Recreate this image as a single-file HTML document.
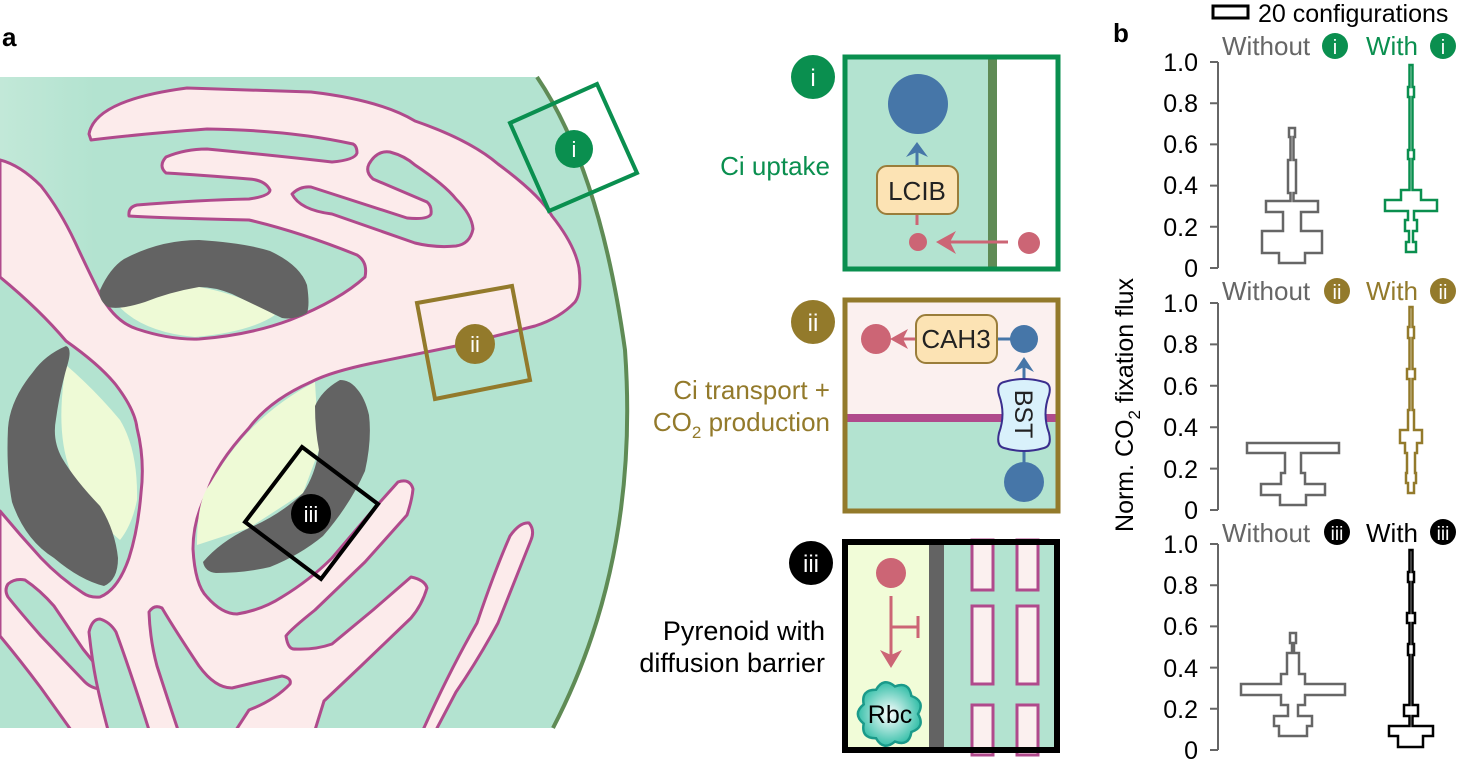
<!DOCTYPE html>
<html><head><meta charset="utf-8"><style>
html,body{margin:0;padding:0;background:#fff;}
svg{display:block;font-family:"Liberation Sans",sans-serif;}
</style></head><body>
<svg width="1467" height="761" viewBox="0 0 1467 761" xmlns="http://www.w3.org/2000/svg">
<defs>
<linearGradient id="lg" x1="0" x2="1" y1="0" y2="0"><stop offset="0" stop-color="#c2e8d8"/><stop offset="0.15" stop-color="#b3e3d0"/></linearGradient>
<radialGradient id="rg"><stop offset="0" stop-color="#ffffff"/><stop offset="1" stop-color="#38c0aa"/></radialGradient>
<clipPath id="cellclip"><path d="M0,77 L537,77 Q600,170 625,350 Q640,560 553,728 L0,728 Z"/></clipPath>
</defs>
<text x="2" y="46" font-size="26" font-weight="bold">a</text>

<path d="M0,77 L537,77 Q600,170 625,350 Q640,560 553,728 L0,728 Z" fill="url(#lg)"/>
<g clip-path="url(#cellclip)" stroke="#b04a8c" stroke-width="3" stroke-linejoin="round">
<path fill="#fcebeb" d="M89,134 Q95,100 187,88 L311,92 Q380,100 415,121 Q470,140 498,164 Q540,195 552,216 Q575,245 579,268 Q582,292 575,302 Q560,318 535,326 L456,346 L373,363 Q330,372 311,382 Q270,400 249,428 Q215,465 207,493 Q193,520 193,549 Q195,585 207,597 Q222,614 237,614 Q262,610 282,597 Q310,580 332,558 L373,510 L398,482 Q410,478 413,489 Q412,500 407,515 L365,562 L315,610 Q290,630 286,636 Q288,650 295,649 Q315,650 332,644 L373,610 L411,577 Q425,580 427,588 Q422,605 411,618 L361,666 L324,701 L315,730 L0,730 L0,160 Q20,165 41,186 Q60,210 75,242 Q88,270 100,294 Q115,322 137,329 Q170,340 199,339 Q250,335 290,320 Q340,300 365,277 Q368,262 357,255 Q300,232 249,220 Q160,218 129,216 Q128,207 137,205 Q200,200 249,199 Q270,196 270,190 Q265,180 249,179 Q200,175 166,173 Q158,166 166,157 Q185,149 207,149 Q280,156 332,162 Q355,160 357,153 Q357,146 353,144 Q290,130 207,129 Q140,134 91,140 Z"/>
<path fill="#b3e3d0" d="M292,194 Q300,186 311,187 L407,218 Q428,220 431,214 Q432,206 427,202 L373,179 Q365,172 369,164 Q377,150 390,152 Q405,156 415,165 Q445,185 456,199 Q472,215 473,229 Q470,244 456,246 Q435,248 415,243 L332,214 Q300,210 292,194 Z"/>
<path fill="#b3e3d0" d="M-5,277 L0,277 Q40,310 66,341 Q100,365 116,385 Q135,410 137,428 Q145,460 141,493 Q138,530 129,558 Q118,590 100,597 Q90,598 83,593 Q60,578 41,558 Q20,535 0,511 L-5,511 Z"/>
<path fill="#b3e3d0" d="M8,584 Q15,578 25,580 Q40,590 54,606 L83,649 L108,680 Q108,690 100,689 Q90,688 83,680 L41,636 Q20,612 8,597 Q4,590 8,584 Z"/>
<path fill="#b3e3d0" d="M-5,636 L0,636 Q20,660 41,688 L71,730 L-5,730 Z"/>
<path fill="#b3e3d0" d="M89,632 Q92,619 100,619 Q110,622 116,632 Q130,670 149,730 L108,730 Q100,700 96,680 Q92,660 89,632 Z"/>
<path fill="#b3e3d0" d="M149,612 Q154,604 162,608 Q175,630 199,666 Q215,688 232,688 L282,676 Q292,678 290,684 Q275,700 249,710 L236,730 L178,730 Q168,700 157,666 Q150,640 149,612 Z"/>
<path fill="#fcebeb" d="M423,730 Q450,670 477,623 Q495,570 510,536 Q520,522 529,523 Q535,530 531,540 Q515,580 498,623 Q478,660 456,692 L436,730 Z"/>
</g>
<path fill="#eefad6" d="M116,303 Q160,288 199,287 Q240,294 275,315 Q250,332 195,337 Q140,332 116,303 Z"/>
<path fill="#eefad6" d="M66,365 Q95,390 120,420 Q138,450 137,500 Q132,525 120,540 Q95,520 70,470 Q55,430 66,365 Z"/>
<path fill="#eefad6" d="M197,545 Q197,500 210,484 Q230,450 252,428 Q280,400 315,382 L319,450 L303,493 L249,528 Z"/>
<path fill="#636363" d="M100,290 Q110,268 124,259 Q160,240 199,240 Q245,243 270,251 Q300,265 307,285 Q310,305 307,313 Q295,320 282,318 Q255,305 232,294 Q215,287 199,287 Q170,292 145,302 Q120,310 108,307 Q98,300 100,290 Z"/>
<path fill="#636363" d="M66,346 Q45,355 33,372 Q10,400 8,428 Q6,470 12,502 Q25,540 54,558 Q80,580 104,586 Q118,580 118,558 Q115,530 100,506 Q75,480 62,458 Q52,440 56,419 Q60,390 68,363 Q72,348 66,346 Z"/>
<path fill="#636363" d="M340,380 Q322,390 315,406 Q315,430 319,450 Q315,475 303,493 Q280,515 249,528 Q220,542 203,562 Q205,572 216,573 Q245,573 270,567 Q300,555 323,536 Q350,505 365,471 Q372,440 369,415 Q365,398 357,389 Q350,380 340,380 Z"/>
<path d="M537,77 Q600,170 625,350 Q640,560 553,728" fill="none" stroke="#5f8b55" stroke-width="4"/>
<path d="M510,123 L597,84 L637,173 L549,211 Z" fill="none" stroke="#0a8f4f" stroke-width="4"/>
<circle cx="574" cy="149" r="19" fill="#0a8f4f"/><text x="574" y="157" font-size="22" fill="#fff" text-anchor="middle">i</text>
<path d="M417,303 L512,286 L530,380 L435,399 Z" fill="none" stroke="#937a2b" stroke-width="4"/>
<circle cx="475" cy="344" r="20" fill="#937a2b"/><text x="475" y="352" font-size="22" fill="#fff" text-anchor="middle">ii</text>
<path d="M302,447 L378,504 L321,579 L245,522 Z" fill="none" stroke="#000" stroke-width="4"/>
<circle cx="311" cy="514" r="20" fill="#000"/><text x="311" y="522" font-size="22" fill="#fff" text-anchor="middle">iii</text>

<!-- panel i -->
<circle cx="813" cy="77" r="22" fill="#0a8f4f"/><text x="813" y="86" font-size="24" fill="#fff" text-anchor="middle">i</text>
<text x="830" y="175" font-size="26" fill="#0a8f4f" text-anchor="end">Ci uptake</text>
<rect x="845" y="57" width="213" height="212" fill="#b3e3d0"/>
<rect x="997" y="57" width="61" height="212" fill="#fff"/>
<rect x="988" y="57" width="9" height="212" fill="#5f8b55"/>
<rect x="845" y="57" width="213" height="212" fill="none" stroke="#0a8f4f" stroke-width="5"/>
<circle cx="918" cy="104" r="30" fill="#4676a8"/>
<line x1="917" y1="167" x2="917" y2="150" stroke="#4676a8" stroke-width="3"/>
<path d="M906,157 L917,142 L928,157 L917,152 Z" fill="#4676a8"/>
<line x1="917" y1="212" x2="917" y2="225" stroke="#cc6575" stroke-width="3"/>
<rect x="877" y="166" width="81" height="48" rx="10" fill="#fce3b4" stroke="#9a7d3a" stroke-width="2"/>
<text x="917" y="200" font-size="26" text-anchor="middle" fill="#222">LCIB</text>
<circle cx="918" cy="242" r="9" fill="#cc6575"/>
<line x1="1008" y1="242" x2="945" y2="242" stroke="#cc6575" stroke-width="3"/>
<path d="M936,242 L956,231 L950,242 L956,254 Z" fill="#cc6575"/>
<circle cx="1029" cy="243" r="11" fill="#cc6575"/>

<!-- panel ii -->
<circle cx="813" cy="322" r="22" fill="#937a2b"/><text x="813" y="331" font-size="24" fill="#fff" text-anchor="middle">ii</text>
<text x="830" y="399" font-size="26" fill="#937a2b" text-anchor="end">Ci transport +</text>
<text x="830" y="431" font-size="26" fill="#937a2b" text-anchor="end">CO<tspan font-size="17" dy="7">2</tspan><tspan dy="-7"> production</tspan></text>
<rect x="845" y="300" width="213" height="211" fill="#fbf0ef"/>
<rect x="845" y="418" width="213" height="93" fill="#b3e3d0"/>
<rect x="845" y="414" width="213" height="8" fill="#b04a8c"/>
<rect x="845" y="300" width="213" height="211" fill="none" stroke="#937a2b" stroke-width="5"/>
<circle cx="876" cy="339" r="15" fill="#cc6575"/>
<line x1="916" y1="339" x2="898" y2="339" stroke="#cc6575" stroke-width="3"/>
<path d="M890,339 L908,329 L903,339 L908,349 Z" fill="#cc6575"/>
<line x1="997" y1="339" x2="1012" y2="339" stroke="#4676a8" stroke-width="3"/>
<rect x="916" y="315" width="81" height="48" rx="10" fill="#fce3b4" stroke="#9a7d3a" stroke-width="2"/>
<text x="956" y="348" font-size="26" text-anchor="middle" fill="#222">CAH3</text>
<circle cx="1024" cy="339" r="14" fill="#4676a8"/>
<line x1="1024" y1="380" x2="1024" y2="362" stroke="#4676a8" stroke-width="3"/>
<path d="M1014,372 L1024,357 L1034,372 L1024,367 Z" fill="#4676a8"/>
<line x1="1024" y1="446" x2="1024" y2="465" stroke="#4676a8" stroke-width="3"/>
<circle cx="1024" cy="482" r="20" fill="#4676a8"/>
<path d="M1004,382 Q1024,376 1044,382 Q1052,384 1049,395 Q1042,414 1049,433 Q1052,446 1044,448 Q1024,454 1004,448 Q996,446 999,433 Q1006,414 999,395 Q996,384 1004,382 Z" fill="#d9f1fb" stroke="#3a2e8e" stroke-width="2"/>
<text x="0" y="0" font-size="25" fill="#222" text-anchor="middle" transform="translate(1015,414) rotate(90)">BST</text>

<!-- panel iii -->
<circle cx="811" cy="563" r="22" fill="#000"/><text x="811" y="572" font-size="24" fill="#fff" text-anchor="middle">iii</text>
<text x="825" y="640" font-size="27" text-anchor="end">Pyrenoid with</text>
<text x="825" y="672" font-size="27" text-anchor="end">diffusion barrier</text>
<rect x="845" y="542" width="212" height="208" fill="#b3e3d0"/>
<rect x="845" y="542" width="84" height="208" fill="#f1fcd8"/>
<rect x="929" y="542" width="15" height="208" fill="#636363"/>
<g fill="#fbf0ef" stroke="#b04a8c" stroke-width="3">
<rect x="972" y="540" width="21" height="50"/><rect x="1017" y="540" width="21" height="50"/>
<rect x="972" y="606" width="21" height="78"/><rect x="1017" y="606" width="21" height="78"/>
<rect x="972" y="705" width="21" height="50"/><rect x="1017" y="705" width="21" height="50"/>
</g>
<rect x="845" y="542" width="212" height="208" fill="none" stroke="#000" stroke-width="6"/>
<circle cx="891" cy="573" r="15" fill="#cc6575"/>
<line x1="891" y1="596" x2="891" y2="660" stroke="#cc6575" stroke-width="3"/>
<path d="M880,650 L891,668 L902,650 L891,655 Z" fill="#cc6575"/>
<line x1="891" y1="627" x2="918" y2="627" stroke="#cc6575" stroke-width="3"/>
<line x1="918" y1="616" x2="918" y2="638" stroke="#cc6575" stroke-width="3"/>
<path d="M918,714 Q925.7,727 911.4,732 Q909,746.9 894.9,741.6 Q883.4,751.4 876,738.2 Q860.9,738.4 863.7,723.6 Q852,714 863.7,704.4 Q860.9,689.6 876,689.8 Q883.4,676.6 894.9,686.4 Q909,681.1 911.4,696 Q925.7,701 918,714 Z" fill="url(#rg)" stroke="#1a9a8a" stroke-width="2.5"/>
<text x="890" y="723" font-size="25" text-anchor="middle">Rbc</text>

<!-- panel b -->
<text x="1113" y="42" font-size="26" font-weight="bold">b</text>
<rect x="1213" y="6" width="35" height="12" fill="none" stroke="#000" stroke-width="3"/>
<text x="1258" y="22" font-size="25">20 configurations</text>
<text x="0" y="0" font-size="25" text-anchor="middle" transform="translate(1133,405) rotate(-90)">Norm. CO<tspan font-size="17" dy="7">2</tspan><tspan dy="-7"> fixation flux</tspan></text>

<g font-size="26" fill="#666">
<text x="1222" y="55">Without</text><text x="1222" y="300">Without</text><text x="1222" y="542">Without</text>
</g>
<circle cx="1335" cy="46" r="13" fill="#0a8f4f"/><text x="1335" y="54" font-size="20" fill="#fff" text-anchor="middle">i</text>
<text x="1366" y="55" font-size="26" fill="#0a8f4f">With</text>
<circle cx="1443" cy="46" r="13" fill="#0a8f4f"/><text x="1443" y="54" font-size="20" fill="#fff" text-anchor="middle">i</text>
<circle cx="1337" cy="291" r="13" fill="#937a2b"/><text x="1337" y="299" font-size="20" fill="#fff" text-anchor="middle">ii</text>
<text x="1366" y="300" font-size="26" fill="#937a2b">With</text>
<circle cx="1443" cy="291" r="13" fill="#937a2b"/><text x="1443" y="299" font-size="20" fill="#fff" text-anchor="middle">ii</text>
<circle cx="1337" cy="532" r="13" fill="#000"/><text x="1337" y="540" font-size="19" fill="#fff" text-anchor="middle">iii</text>
<text x="1366" y="542" font-size="26" fill="#000">With</text>
<circle cx="1443" cy="532" r="13" fill="#000"/><text x="1443" y="540" font-size="19" fill="#fff" text-anchor="middle">iii</text>

<g stroke="#666" stroke-width="2" fill="none">
<path d="M1218,62 V268 M1210,62 H1218 M1210,103.2 H1218 M1210,144.4 H1218 M1210,185.6 H1218 M1210,226.8 H1218 M1210,268 H1218"/>
<path d="M1218,303 V510 M1210,303 H1218 M1210,344.4 H1218 M1210,385.8 H1218 M1210,427.2 H1218 M1210,468.6 H1218 M1210,510 H1218"/>
<path d="M1218,544 V750 M1210,544 H1218 M1210,585.2 H1218 M1210,626.4 H1218 M1210,667.6 H1218 M1210,708.8 H1218 M1210,750 H1218"/>
</g>
<g font-size="25" text-anchor="end">
<text x="1198" y="71">1.0</text><text x="1198" y="112">0.8</text><text x="1198" y="153">0.6</text><text x="1198" y="194">0.4</text><text x="1198" y="236">0.2</text><text x="1198" y="277">0</text>
<text x="1198" y="312">1.0</text><text x="1198" y="353">0.8</text><text x="1198" y="395">0.6</text><text x="1198" y="436">0.4</text><text x="1198" y="478">0.2</text><text x="1198" y="519">0</text>
<text x="1198" y="553">1.0</text><text x="1198" y="594">0.8</text><text x="1198" y="635">0.6</text><text x="1198" y="677">0.4</text><text x="1198" y="718">0.2</text><text x="1198" y="759">0</text>
</g>

<g fill="none" stroke-width="2.5" stroke-linejoin="miter">
<path stroke="#666" d="M1295,128 V137 H1293.5 V160 H1296 V193 H1293.5 V201 H1318 V212 H1301 V231 H1322 V253 H1305 V263 H1279 V253 H1262 V231 H1283 V212 H1266 V201 H1290.5 V193 H1288 V160 H1290.5 V137 H1289 V128 Z"/>
<path stroke="#0a8f4f" d="M1412.5,65 V87 H1414 V97 H1412.5 V150 H1414 V159 H1412.5 V190 H1421 V200 H1437 V211 H1414 V220 H1417 V231 H1413 V242 H1416 V252 H1406 V242 H1409 V231 H1405 V220 H1408 V211 H1385 V200 H1401 V190 H1409.5 V159 H1408 V150 H1409.5 V97 H1408 V87 H1409.5 V65 Z"/>
<path stroke="#666" d="M1339,443 V453 H1301 V473 H1305 V484 H1325 V495 H1306 V505 H1280 V495 H1261 V484 H1281 V473 H1285 V453 H1247 V443 Z"/>
<path stroke="#937a2b" d="M1412.5,307 V327 H1414 V338 H1412.5 V369 H1415 V379 H1412.5 V410 H1414 V430 H1422 V443 H1417 V453 H1415 V473 H1416 V483 H1414 V493 H1408 V483 H1406 V473 H1407 V453 H1405 V443 H1400 V430 H1408 V410 H1409.5 V379 H1407 V369 H1409.5 V338 H1408 V327 H1409.5 V307 Z"/>
<path stroke="#666" d="M1296,633 V643 H1294 V653 H1299 V674 H1305 V684 H1345 V695 H1305 V705 H1298 V716 H1312 V726 H1307 V736 H1279 V726 H1274 V716 H1288 V705 H1281 V695 H1241 V684 H1281 V674 H1287 V653 H1292 V643 H1290 V633 Z"/>
<path stroke="#000" d="M1412.5,550 V572 H1414 V582 H1412.5 V613 H1415 V623 H1412.5 V644 H1414 V655 H1412.5 V705 H1418 V716 H1412.5 V726 H1433 V736 H1423 V747 H1398 V736 H1389 V726 H1409.5 V716 H1404 V705 H1409.5 V655 H1408 V644 H1409.5 V623 H1407 V613 H1409.5 V582 H1408 V572 H1409.5 V550 Z"/>
</g>
</svg>
</body></html>
